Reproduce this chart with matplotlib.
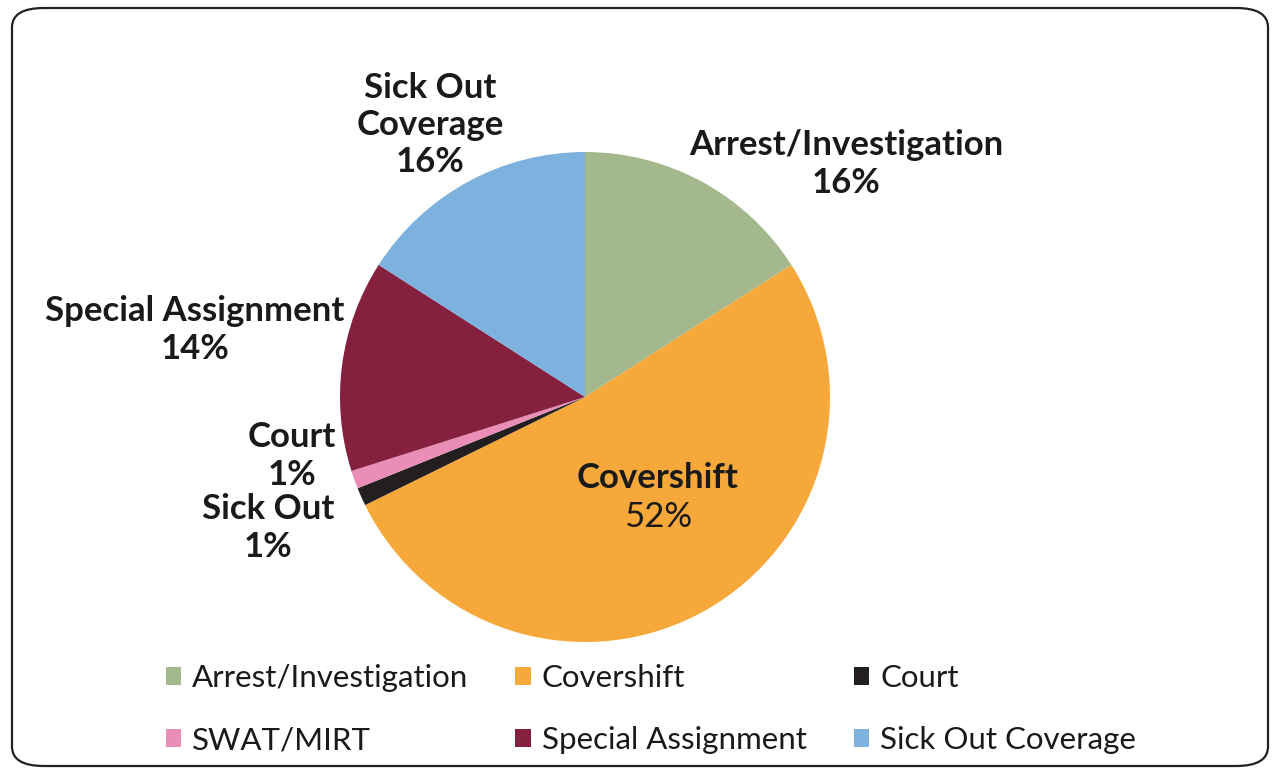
import matplotlib.pyplot as plt
from matplotlib.patches import FancyBboxPatch, Patch

# Data (clockwise from 12 o'clock)
categories = ["Arrest/Investigation", "Covershift", "Court", "SWAT/MIRT",
              "Special Assignment", "Sick Out Coverage"]
values = [16, 52, 1.2, 1.2, 14, 16]
colors = ["#a3b98d", "#f6a83a", "#231f20", "#ea8db7", "#86203f", "#7eb2de"]

# slice labels as printed on the chart
slice_names = ["Arrest/Investigation", "Covershift", "Sick Out", "Court",
               "Special Assignment", "Sick Out\nCoverage"]
slice_pcts = ["16%", "52%", "1%", "1%", "14%", "16%"]

W, H = 1278, 774
fig = plt.figure(figsize=(W / 100, H / 100), dpi=100)
plt.rcParams['font.family'] = ['Lato', 'DejaVu Sans']

# rounded border
fig.patches.append(FancyBboxPatch((12 / W, 8 / H), 1256 / W, 758 / H,
                                  boxstyle="round,pad=0,rounding_size=0.025",
                                  transform=fig.transFigure, fill=False,
                                  edgecolor="#222222", linewidth=1.6))

cx, cy, r = 585, 397, 245
ax = fig.add_axes([(cx - r) / W, (H - cy - r) / H, 2 * r / W, 2 * r / H])
ax.pie(values, colors=colors, startangle=90, counterclock=False, radius=1,
       wedgeprops=dict(linewidth=0))
ax.set_xlim(-1, 1)
ax.set_ylim(-1, 1)
ax.set_aspect('equal')
ax.axis('off')

def ftext(px, py, s, **kw):
    fig.text(px / W, 1 - py / H, s, ha='center', va='center',
             fontsize=25, color='#1a1a1a', linespacing=1.2, **kw)

# label pixel positions
pos = [(846, 164), None, (268, 528), (292, 456), (195, 330), (430, 125)]
for i, p in enumerate(pos):
    if p is None:
        continue
    ftext(p[0], p[1], slice_names[i] + "\n" + slice_pcts[i], fontweight='bold')
ftext(658, 478, slice_names[1], fontweight='bold')
ftext(658, 517, slice_pcts[1])

# legend, row-wise order
order = [0, 3, 1, 4, 2, 5]
handles = [Patch(facecolor=colors[i], edgecolor='none', label=categories[i])
           for i in order]
fig.legend(handles=handles, ncol=3, loc='center', bbox_to_anchor=(651 / W, 1 - 709 / H),
           frameon=False, fontsize=22.5, handlelength=0.5, handleheight=0.5,
           handletextpad=0.35, columnspacing=1.5, labelspacing=1.1,
           labelcolor='#1a1a1a')

fig.savefig("out.png", dpi=100)
